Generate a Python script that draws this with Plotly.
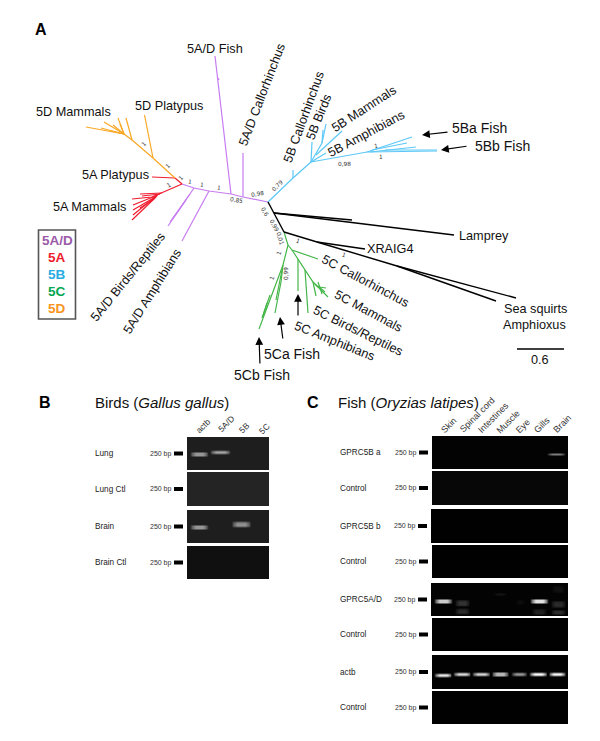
import plotly.graph_objects as go

FONT = "Liberation Sans"

# tree branches, one polyline per entry
purple_branches = [
    [(182, 184), (194, 188), (209, 191), (231, 194), (243, 197), (268, 202)],
    [(231, 194), (218, 78), (215, 56)],
    [(218, 78), (219, 80)],
    [(243, 197), (243, 153)],
    [(194, 188), (168, 226)],
    [(190, 194), (170, 222)],
    [(186, 200), (172, 220)],
    [(209, 191), (182, 241)],
]
red_branches = [
    [(182, 184), (162, 193), (152, 197), (132, 199)],
    [(175, 178), (182, 184)],
    [(175, 178), (152, 177)],
    [(162, 193), (140, 194)],
    [(160, 194), (142, 196)],
    [(158, 195), (133, 205)],
    [(157, 196), (133, 210)],
    [(155, 197), (133, 215)],
    [(156, 197), (132, 220)],
    [(154, 199), (140, 208)],
]
orange_branches = [
    [(175, 178), (153, 158), (132, 140), (124, 134)],
    [(153, 158), (144.5, 115)],
    [(132, 140), (126, 118)],
    [(124, 134), (86, 127)],
    [(124, 134), (118, 118)],
    [(124, 134), (104, 122)],
    [(124, 134), (113, 125)],
    [(124, 134), (101, 128)],
    [(124, 134), (111, 131)],
    [(124, 134), (120, 124)],
]
blue_branches = [
    [(268, 202), (293, 178), (311, 162)],
    [(293, 178), (293, 170)],
    [(311, 162), (312, 142)],
    [(311, 162), (322, 143), (326, 124)],
    [(322, 143), (323, 130)],
    [(316, 155), (342, 131)],
    [(311, 162), (326, 153)],
    [(311, 162), (367, 152), (437, 151)],
    [(367, 152), (412, 137)],
    [(372, 150), (407, 143)],
    [(370, 152), (416, 147)],
    [(385, 150), (437, 150)],
]
green_branches = [
    [(284, 232), (288, 245), (283, 265), (259, 329)],
    [(283, 265), (281, 282), (275, 313)],
    [(282, 270), (276, 300)],
    [(267, 303), (263, 316)],
    [(270, 295), (262, 318)],
    [(288, 245), (292, 250), (318, 259)],
    [(292, 250), (298, 259), (305, 270), (313, 282), (328, 297)],
    [(298, 259), (298, 291)],
    [(305, 270), (308, 313)],
    [(313, 282), (316, 296)],
    [(315, 284), (318, 287)],
    [(318, 286), (325, 292)],
    [(318, 282), (322, 294)],
    [(319, 287), (326, 288)],
]
black_branches = [
    [(268, 202), (274, 213), (284, 232)],
    [(274, 213), (352, 220)],
    [(274, 213), (454, 235)],
    [(284, 232), (317, 242), (365, 249)],
    [(317, 242), (397, 266), (516, 298)],
    [(397, 266), (496, 301)],
]
clade_colors = {
    "#c77cf2": purple_branches,
    "#f01c2e": red_branches,
    "#f9a825": orange_branches,
    "#5cc8f7": blue_branches,
    "#45b649": green_branches,
    "#000000": black_branches,
}

scale_bar = [(517, 349), (564, 349)]

# arrows: tail -> head
arrows = [
    (449, 132, 422, 135),
    (468, 146, 441, 150),
    (298, 317, 298, 294),
    (283, 340, 280, 317),
    (260, 365, 259, 337),
]

# tree labels: text, x, y, angle, size
tree_labels = [
    ("5A/D Fish", 215, 49, 0, 12.7),
    ("5A/D Callorhinchus", 262, 95, -69, 12.7),
    ("5B Callorhinchus", 304, 117, -70, 12.7),
    ("5B Birds", 319, 117, -68, 12.7),
    ("5B Mammals", 364, 109, -33, 12.7),
    ("5B Amphibians", 366, 134, -28, 12.7),
    ("5D Mammals", 73, 112, 0, 12.7),
    ("5D Platypus", 169, 106, 0, 12.7),
    ("5A Platypus", 115, 175, 0, 12.7),
    ("5A Mammals", 89, 207, 0, 12.7),
    ("5A/D Birds/Reptiles", 128, 277, -51, 12.7),
    ("5A/D Amphibians", 152, 292, -58, 12.7),
    ("5C Callorhinchus", 365, 281, 28, 12.7),
    ("5C Mammals", 368, 311, 28, 12.7),
    ("5C Birds/Reptiles", 358, 331, 26, 12.7),
    ("5C Amphibians", 334, 341, 22, 12.7),
    ("5Ba Fish", 479.5, 128, 0, 14),
    ("5Bb Fish", 502.5, 146, 0, 14),
    ("5Ca Fish", 291.5, 354, 0, 14),
    ("5Cb Fish", 262, 375, 0, 14),
    ("XRAIG4", 390.5, 249, 0, 12.7),
    ("Lamprey", 484, 236, 0, 12.7),
    ("Sea squirts", 535, 309, 0, 12.7),
    ("Amphioxus", 534, 325, 0, 12.7),
    ("0.6", 540, 360, 0, 12.7),
]

support_labels = [
    ("1", 144, 144, -45), ("1", 168, 166, -45), ("1", 181, 178, -45),
    ("1", 169, 185, -30), ("1", 190, 182, 10), ("1", 202, 185, 10),
    ("1", 219, 188, 10), ("0,85", 236, 200, 10), ("0,98", 257, 194, -10),
    ("0,79", 277, 186, -45), ("0,6", 265, 212, 60), ("0,99", 274, 225, 62),
    ("0,01", 280, 238, 75), ("1", 279, 253, -70), ("1", 272, 278, -70),
    ("0,99", 286, 274, -90), ("1", 298, 241, 20), ("1", 344, 255, 20),
    ("1", 376, 146, -10), ("1", 381, 157, 0), ("0,98", 344, 164, 0),
]

legend_names = ["5A/D", "5A", "5B", "5C", "5D"]
legend_colors = ["#9b59a8", "#ed1c2e", "#29abe2", "#00a651", "#f7941d"]
legend_y = [240, 257, 274, 291, 308]

# gels: left, right, top, bottom, background grey level, row label
gels_b = [
    (187, 269, 437, 470, 30, "Lung"),
    (187, 269, 472, 506, 36, "Lung Ctl"),
    (187, 269, 510, 543, 30, "Brain"),
    (187, 269, 546, 579, 16, "Brain Ctl"),
]
gels_c = [
    (432, 568, 436, 469, 3, "GPRC5B a"),
    (432, 568, 471, 505, 7, "Control"),
    (431, 568, 509, 543, 1, "GPRC5B b"),
    (432, 568, 545, 578, 1, "Control"),
    (431, 568, 583, 616, 3, "GPRC5A/D"),
    (432, 568, 618, 651, 1, "Control"),
    (432, 568, 655, 689, 2, "actb"),
    (432, 568, 691, 724, 1, "Control"),
]

lanes_b = ["actb", "5A/D", "5B", "5C"]
lanes_b_x = [203, 226, 244, 264]
lanes_b_y = [426, 424, 428, 429]
lanes_c = ["Skin", "Spinal cord", "Intestines", "Muscle", "Eye", "Gills", "Brain"]
lanes_c_x = [449, 477, 493, 508, 523, 542, 562]
lanes_c_y = [425, 415, 418, 422, 426, 425, 424]

# bands: centre x, centre y, width, height, grey level, grey level of the gel
bands = [
    (199, 454, 17, 4, 150, 30), (220, 452, 19, 3, 165, 30),
    (199, 527, 17, 4, 150, 30), (241, 524, 18, 5, 145, 30),
    (556, 454, 17, 2, 125, 3),
    (443, 601, 17, 4, 205, 3), (539, 601, 17, 4, 225, 3),
    (462, 603, 14, 6, 50, 3), (462, 611, 14, 5, 42, 3),
    (539, 611.5, 14, 5, 32, 3), (558, 604, 14, 6, 42, 3),
    (558, 612, 14, 4, 42, 3), (558, 589, 12, 6, 16, 3),
    (500, 594, 12, 2, 20, 3), (520, 602, 8, 4, 13, 3),
    (443, 675, 17, 3, 230, 2), (462, 674, 17, 3, 215, 2),
    (481, 674, 17, 3, 210, 2), (500, 674, 16, 4, 180, 2),
    (519, 674, 15, 3, 150, 2), (538, 674, 17, 3, 250, 2),
    (557, 674, 16, 3, 245, 2),
]

fig = go.Figure()

for color, branches in clade_colors.items():
    xs, ys = [], []
    for branch in branches:
        xs += [p[0] for p in branch] + [None]
        ys += [p[1] for p in branch] + [None]
    fig.add_trace(
        go.Scatter(
            x=xs,
            y=ys,
            mode="lines",
            line={"color": color, "width": 1.4 if color == "#000000" else 1.2},
            hoverinfo="skip",
        )
    )

fig.add_trace(
    go.Scatter(
        x=[p[0] for p in scale_bar],
        y=[p[1] for p in scale_bar],
        mode="lines",
        line={"color": "#000000", "width": 1.5},
        hoverinfo="skip",
    )
)

grey_scale = [[0.0, "#000000"], [1.0, "#ffffff"]]


def add_grey_cells(x, y, z, smooth=False):
    # x and y hold cell edges, so nothing spills out of the gel
    fig.add_trace(
        go.Heatmap(
            x=x,
            y=y,
            z=z,
            zmin=0,
            zmax=255,
            colorscale=grey_scale,
            showscale=False,
            hoverinfo="skip",
            zsmooth="best" if smooth else False,
        )
    )


def add_text(text, x, y, size=12.7, angle=0, color="#111111", anchor="center", family=FONT):
    fig.add_annotation(
        x=x,
        y=y,
        text=text,
        showarrow=False,
        textangle=angle,
        xanchor=anchor,
        font={"family": family, "size": size, "color": color},
    )


for left, right, top, bottom, level, label in gels_b + gels_c:
    add_grey_cells([left, right], [top, bottom], [[level]])
    # ladder mark and size next to each gel row
    middle = (top + bottom) / 2
    mark_right = left - 4
    fig.add_shape(
        type="rect",
        x0=mark_right - 9,
        x1=mark_right,
        y0=middle - 2,
        y1=middle + 2,
        fillcolor="#000000",
        line={"width": 0},
    )
    add_text("250 bp", mark_right - 22.5, middle, size=7, color="#333333")
    row_x = 92.5 if left < 300 else 337.5
    add_text(label, row_x, middle, size=8.2, color="#222222", anchor="left")

for cx, cy, w, h, level, bg in bands:
    add_grey_cells(
        [cx - w / 2 - 2, cx - w / 2 + 1, cx, cx + w / 2 - 1, cx + w / 2 + 2],
        [cy - h / 2 - 2, cy - h / 2, cy, cy + h / 2, cy + h / 2 + 2],
        [
            [bg, bg, bg, bg],
            [bg, level, level, bg],
            [bg, level, level, bg],
            [bg, bg, bg, bg],
        ],
        smooth=True,
    )

for x0, y0, x1, y1 in arrows:
    fig.add_annotation(
        x=x1,
        y=y1,
        ax=x0,
        ay=y0,
        xref="x",
        yref="y",
        axref="x",
        ayref="y",
        text="",
        showarrow=True,
        arrowhead=2,
        arrowsize=1.3,
        arrowwidth=1.2,
        arrowcolor="#000000",
    )

for text, x, y, angle, size in tree_labels:
    add_text(text, x, y, size=size, angle=angle)

for text, x, y, angle in support_labels:
    add_text(text, x, y, size=5.8, angle=angle, color="#333333", family="DejaVu Sans")

# legend box
fig.add_shape(
    type="rect",
    x0=38.5,
    x1=75.5,
    y0=230,
    y1=319,
    fillcolor="#ffffff",
    line={"color": "#555555", "width": 1.6},
)
for name, color, y in zip(legend_names, legend_colors, legend_y):
    add_text("<b>%s</b>" % name, 57, y, size=13.5, color=color)

# panel letters and titles
add_text("<b>A</b>", 41, 29, size=16, color="#000000")
add_text("<b>B</b>", 45, 402, size=16, color="#000000")
add_text("<b>C</b>", 313, 402, size=16, color="#000000")
add_text("Birds (<i>Gallus gallus</i>)", 92.5, 402, size=15, anchor="left")
add_text("Fish (<i>Oryzias latipes</i>)", 335.5, 402, size=15, anchor="left")

for name, x, y in zip(lanes_b, lanes_b_x, lanes_b_y):
    add_text(name, x, y, size=8.5, angle=-45, color="#333333")
for name, x, y in zip(lanes_c, lanes_c_x, lanes_c_y):
    add_text(name, x, y, size=9, angle=-45, color="#333333")

fig.update_layout(
    width=600,
    height=741,
    margin={"l": 0, "r": 0, "t": 0, "b": 0},
    paper_bgcolor="#ffffff",
    plot_bgcolor="#ffffff",
    showlegend=False,
)
fig.update_xaxes(range=[0, 600], visible=False)
fig.update_yaxes(range=[741, 0], visible=False)

fig.write_html(
    "out.html",
    config={"displayModeBar": False},
    post_script="document.body.style.margin='0';",
)
